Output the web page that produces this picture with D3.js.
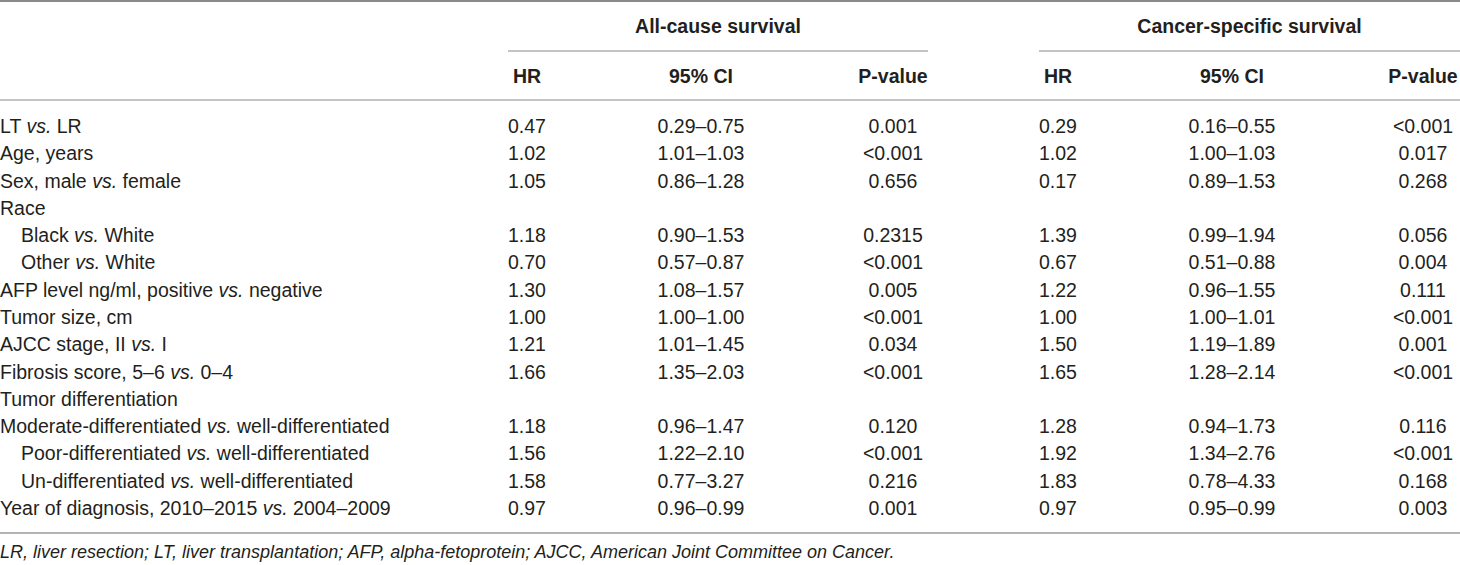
<!DOCTYPE html>
<html lang="en">
<head>
    <meta charset="UTF-8">
    <title>Multivariable Cox regression: LT vs LR</title>
    <script src="https://d3js.org/d3.v7.min.js"></script>
    <style>
        body { margin: 0; background: #fff; }
        svg { display: block; }
        text { font-family: "Liberation Sans", Arial, sans-serif; fill: #231f20; }
        .body-text { font-size: 19.5px; }
        .head-text { font-size: 19.5px; font-weight: bold; }
        .foot-text { font-size: 18px; font-style: italic; }
    </style>
</head>
<body>
<div id="table"></div>
<script>
    // Row labels, "vs." gets italic when drawn
    const labels = [
        "LT vs. LR",
        "Age, years",
        "Sex, male vs. female",
        "Race",
        "Black vs. White",
        "Other vs. White",
        "AFP level ng/ml, positive vs. negative",
        "Tumor size, cm",
        "AJCC stage, II vs. I",
        "Fibrosis score, 5–6 vs. 0–4",
        "Tumor differentiation",
        "Moderate-differentiated vs. well-differentiated",
        "Poor-differentiated vs. well-differentiated",
        "Un-differentiated vs. well-differentiated",
        "Year of diagnosis, 2010–2015 vs. 2004–2009"
    ];
    const indented = [0, 0, 0, 0, 1, 1, 0, 0, 0, 0, 0, 0, 1, 1, 0];

    // All-cause survival
    const allHR = ["0.47", "1.02", "1.05", null, "1.18", "0.70", "1.30", "1.00", "1.21", "1.66", null, "1.18", "1.56", "1.58", "0.97"];
    const allCI = ["0.29–0.75", "1.01–1.03", "0.86–1.28", null, "0.90–1.53", "0.57–0.87", "1.08–1.57", "1.00–1.00", "1.01–1.45", "1.35–2.03", null, "0.96–1.47", "1.22–2.10", "0.77–3.27", "0.96–0.99"];
    const allP = ["0.001", "<0.001", "0.656", null, "0.2315", "<0.001", "0.005", "<0.001", "0.034", "<0.001", null, "0.120", "<0.001", "0.216", "0.001"];

    // Cancer-specific survival
    const csHR = ["0.29", "1.02", "0.17", null, "1.39", "0.67", "1.22", "1.00", "1.50", "1.65", null, "1.28", "1.92", "1.83", "0.97"];
    const csCI = ["0.16–0.55", "1.00–1.03", "0.89–1.53", null, "0.99–1.94", "0.51–0.88", "0.96–1.55", "1.00–1.01", "1.19–1.89", "1.28–2.14", null, "0.94–1.73", "1.34–2.76", "0.78–4.33", "0.95–0.99"];
    const csP = ["<0.001", "0.017", "0.268", null, "0.056", "0.004", "0.111", "<0.001", "0.001", "<0.001", null, "0.116", "<0.001", "0.168", "0.003"];

    const groups = ["All-cause survival", "Cancer-specific survival"];
    const columns = ["HR", "95% CI", "P-value"];
    const footnote = "LR, liver resection; LT, liver transplantation; AFP, alpha-fetoprotein; AJCC, American Joint Committee on Cancer.";

    const width = 1460, height = 565;

    const svg = d3.select("#table").append("svg")
        .attr("width", width)
        .attr("height", height);

    // row baselines
    const y = d3.scalePoint().domain(d3.range(labels.length)).range([133, 515]);

    // group spans and column centres inside each group
    const groupX = d3.scaleOrdinal().domain(groups).range([[508, 928], [1039, 1460]]);
    const colX = {
        "All-cause survival": d3.scaleOrdinal().domain(columns).range([527, 701, 893]),
        "Cancer-specific survival": d3.scaleOrdinal().domain(columns).range([1058, 1232, 1423])
    };
    const groupData = {
        "All-cause survival": [allHR, allCI, allP],
        "Cancer-specific survival": [csHR, csCI, csP]
    };

    // horizontal rules
    svg.append("line").attr("x1", 0).attr("x2", width).attr("y1", 1).attr("y2", 1)
        .attr("stroke", "#8a8a8a").attr("stroke-width", 2);
    svg.append("line").attr("x1", 0).attr("x2", width).attr("y1", 100).attr("y2", 100)
        .attr("stroke", "#b0b0b0").attr("stroke-width", 1.5);
    svg.append("line").attr("x1", 0).attr("x2", width).attr("y1", 533).attr("y2", 533)
        .attr("stroke", "#9a9a9a").attr("stroke-width", 1.5);

    // group headers with their underline
    groups.forEach(g => {
        const [x0, x1] = groupX(g);
        svg.append("text").attr("class", "head-text")
            .attr("x", (x0 + x1) / 2).attr("y", 33)
            .attr("text-anchor", "middle").text(g);
        svg.append("line").attr("x1", x0).attr("x2", x1).attr("y1", 51).attr("y2", 51)
            .attr("stroke", "#b0b0b0").attr("stroke-width", 1.5);

        columns.forEach((c, ci) => {
            svg.append("text").attr("class", "head-text")
                .attr("x", colX[g](c)).attr("y", 83)
                .attr("text-anchor", "middle").text(c);

            svg.selectAll(null)
                .data(groupData[g][ci].map((v, i) => ({ v, i })).filter(d => d.v !== null))
                .enter().append("text")
                .attr("class", "body-text")
                .attr("x", colX[g](c))
                .attr("y", d => y(d.i))
                .attr("text-anchor", "middle")
                .text(d => d.v);
        });
    });

    // row labels, split on "vs." for the italic bit
    const rowText = svg.selectAll(".row-label")
        .data(labels)
        .enter().append("text")
        .attr("class", "row-label body-text")
        .attr("x", (d, i) => indented[i] ? 21 : 0)
        .attr("y", (d, i) => y(i));

    rowText.each(function(d) {
        const parts = d.split("vs.");
        const t = d3.select(this);
        parts.forEach((p, k) => {
            if (k > 0) t.append("tspan").style("font-style", "italic").text("vs.");
            t.append("tspan").text(p);
        });
    });

    svg.append("text").attr("class", "foot-text")
        .attr("x", 0).attr("y", 558).text(footnote);
</script>
</body>
</html>
